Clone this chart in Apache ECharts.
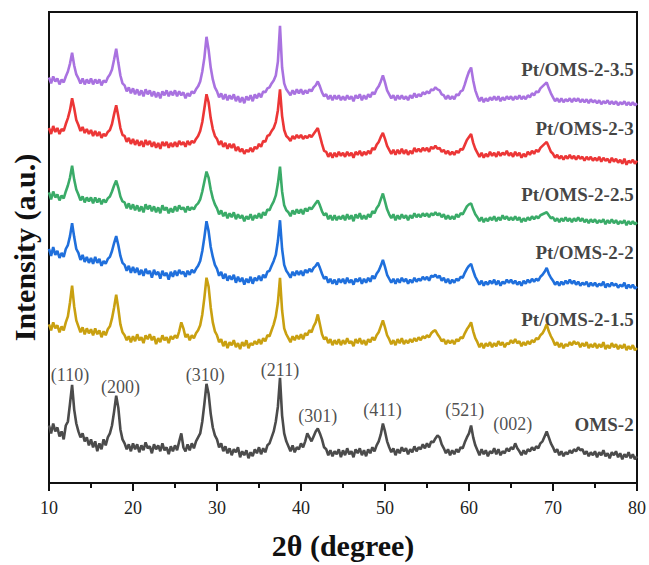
<!DOCTYPE html>
<html>
<head>
<meta charset="utf-8">
<script src="https://cdn.jsdelivr.net/npm/echarts@6/dist/echarts.min.js"></script>
<style>
html,body{margin:0;padding:0;background:#fff;}
#chart{width:649px;height:565px;}
</style>
</head>
<body>
<div id="chart"></div>
<script>
// 2θ sampling: start and step of the scans (degrees)
const angleStart = 10;
const angleStep = 0.25;

// Intensities (a.u.), each relative to its own baseline
const oms2 = [
36,28,38,30,34,25,30,22,36,40,58,77,52,38,30,24,28,20,24,16,
22,14,20,10,18,12,22,16,24,28,36,50,66,54,32,22,18,12,17,10,
18,12,17,9,16,11,19,13,15,8,17,12,16,10,18,11,14,7,15,10,
16,11,20,28,14,10,17,11,18,13,20,24,28,40,58,78,68,48,34,26,
22,14,18,10,15,8,13,6,12,9,14,4,10,6,11,3,9,5,12,8,
14,7,13,9,16,18,24,30,40,55,84,46,28,20,15,10,16,9,14,12,
18,14,20,28,24,20,25,30,33,28,22,14,12,6,11,5,10,7,12,4,
11,6,13,7,10,4,12,8,13,6,11,5,12,8,14,10,16,20,27,38,
30,20,14,9,13,6,12,8,14,10,13,7,12,9,15,10,14,12,17,13,
18,14,20,19,23,26,24,17,13,8,12,6,11,7,12,9,14,13,19,24,
28,36,24,16,11,6,12,7,11,5,10,8,13,7,12,6,10,8,13,10,
14,12,18,13,10,6,11,7,12,10,14,11,15,13,18,20,25,30,24,18,
14,9,12,6,10,5,9,7,11,8,12,10,14,11,12,7,10,5,9,6,
10,4,9,6,11,5,8,3,9,6,10,4,8,2,7,4,9,3,7,2,
5];
const pt15 = [
28,22,30,24,27,20,26,22,30,36,50,67,46,32,26,20,25,18,24,19,
23,17,24,18,22,15,21,17,23,26,34,45,58,44,28,20,17,12,16,10,
16,11,18,12,15,9,17,13,18,12,16,8,14,10,17,12,15,9,16,13,
17,14,21,30,24,15,18,12,17,14,19,22,27,38,55,75,66,45,30,21,
17,10,13,6,11,4,10,7,12,5,9,3,10,6,12,4,9,7,11,8,
13,8,14,11,17,16,22,28,36,50,75,42,24,18,14,10,16,12,17,13,
18,13,19,17,22,20,26,30,38,28,18,13,15,9,13,7,12,8,13,7,
12,8,14,9,11,6,13,9,14,8,12,7,13,10,15,12,17,20,26,32,
25,17,13,8,12,7,13,9,14,8,12,9,13,10,14,11,15,12,16,14,
17,15,19,21,22,18,15,11,13,8,12,9,12,8,13,11,15,14,19,23,
26,30,21,14,10,5,9,4,9,6,10,5,9,6,11,7,10,5,9,8,
12,9,13,9,11,6,10,7,11,8,12,10,14,13,17,19,23,28,21,16,
12,7,10,5,9,4,8,6,10,7,11,8,10,5,9,6,10,4,8,5,
9,4,8,5,10,3,7,4,9,5,8,3,7,4,8,2,6,3,7,2,
4];
const pt2 = [
42,35,44,36,40,33,38,34,42,46,55,68,54,42,38,31,36,29,34,28,
33,27,34,28,32,25,30,27,32,34,40,48,55,46,35,28,26,20,25,18,
24,18,23,16,21,15,22,17,20,13,21,16,19,12,20,15,18,11,19,14,
20,15,21,17,19,14,20,16,21,18,22,25,30,40,54,70,60,44,34,26,
22,15,19,12,17,10,15,11,16,8,14,9,13,6,12,8,14,7,13,10,
15,10,16,13,19,20,25,30,36,50,71,42,26,20,17,13,19,15,20,16,
20,15,21,18,22,19,23,25,28,23,17,12,14,8,12,7,11,6,12,8,
12,7,13,8,11,6,12,9,13,7,12,8,13,9,15,12,17,20,25,31,
24,16,12,8,12,7,12,8,13,9,12,7,11,8,13,9,12,10,14,11,
14,10,15,14,16,13,15,10,13,8,12,7,11,8,12,10,14,13,18,22,
25,27,20,14,10,6,10,5,9,6,10,7,11,6,10,5,9,7,11,8,
11,7,10,6,9,5,10,7,11,8,12,9,12,10,14,16,19,23,17,13,
10,6,9,5,9,6,10,7,11,7,10,6,9,5,8,6,9,4,8,5,
8,4,7,5,9,3,7,4,8,5,7,3,6,4,8,2,6,3,6,2,
4];
const pt25 = [
35,28,36,30,33,27,32,29,36,42,50,62,48,38,33,27,31,25,30,26,
30,24,30,25,29,23,28,25,29,31,36,42,47,40,31,26,25,19,24,18,
23,17,22,16,21,15,23,18,22,16,21,15,20,14,22,17,20,14,19,15,
21,16,22,18,20,15,21,17,20,18,22,24,28,36,46,56,50,38,29,23,
19,13,17,11,15,9,14,10,15,8,13,9,12,6,11,8,13,7,12,9,
14,9,15,12,18,17,22,26,32,44,61,36,22,17,15,11,17,13,18,14,
18,13,19,16,20,18,21,24,27,22,16,12,14,8,12,7,12,7,11,8,
12,7,13,8,12,6,13,9,14,8,12,8,13,10,16,14,19,22,28,34,
26,18,13,9,13,7,12,8,13,9,12,7,12,9,14,10,13,10,14,11,
14,10,14,12,15,12,14,10,13,8,12,8,11,8,13,10,14,13,17,21,
23,24,18,13,10,6,10,5,9,6,10,7,11,6,10,7,12,8,11,7,
10,7,11,7,10,5,9,6,10,7,11,8,11,9,12,13,14,15,12,9,
10,6,9,5,9,6,10,6,9,5,9,6,10,6,9,5,8,4,8,5,
8,4,7,5,8,3,7,4,8,4,7,3,6,4,7,2,6,3,6,3,
5];
const pt3 = [
38,32,40,34,38,32,37,35,42,48,56,68,58,46,41,35,39,33,37,32,
36,30,35,30,34,28,32,30,34,36,42,52,61,50,38,31,30,24,28,22,
27,21,26,20,25,19,26,21,25,19,24,18,23,17,24,20,24,18,23,19,
24,19,25,21,24,19,25,21,25,23,27,30,35,44,58,72,64,48,37,30,
27,21,25,19,23,17,22,18,22,15,19,14,17,12,16,14,18,14,19,17,
22,19,25,24,30,31,35,38,44,56,77,50,36,30,28,25,30,27,31,28,
31,27,30,28,31,29,32,35,38,30,22,15,14,9,13,8,13,9,14,10,
13,9,14,10,13,8,14,11,15,10,14,11,15,12,18,16,21,24,29,33,
27,20,16,12,16,11,16,12,17,12,16,11,15,12,18,14,17,14,18,15,
18,14,19,17,20,17,18,14,16,12,15,11,14,11,15,13,17,16,21,26,
29,32,23,17,13,9,13,8,12,9,14,10,13,9,14,10,13,11,15,10,
13,9,14,10,13,8,12,9,14,11,15,12,16,14,18,20,22,24,19,14,
12,8,11,7,10,6,10,7,11,7,10,6,10,7,9,5,9,6,9,5,
8,5,9,4,8,5,7,3,8,4,7,3,6,2,7,1,5,3,6,2,
5];
const pt35 = [
30,24,31,26,29,23,28,25,31,36,44,55,42,33,29,24,29,23,28,24,
29,23,28,24,28,22,27,25,30,33,38,48,59,45,32,24,22,16,20,14,
19,13,18,12,17,11,18,13,17,11,16,10,15,9,16,12,17,11,16,12,
17,11,16,12,15,9,14,11,16,14,18,21,26,36,50,71,58,40,28,20,
16,10,14,8,13,7,12,8,13,6,11,5,10,4,11,7,12,6,13,9,
14,10,16,15,19,20,24,27,32,46,82,40,24,18,15,12,17,13,18,14,
18,13,17,14,18,16,20,22,26,21,15,11,13,8,12,7,12,8,12,7,
11,7,12,8,11,6,12,9,13,7,12,8,13,10,15,13,18,21,26,32,
25,17,13,9,12,7,12,8,12,8,11,7,12,9,14,10,13,11,15,13,
16,14,18,17,20,18,17,13,12,8,12,8,11,8,13,12,16,17,23,30,
36,40,27,17,11,6,10,5,9,6,10,7,11,7,11,6,10,7,11,8,
11,7,11,8,12,8,11,8,12,10,14,12,16,15,19,21,23,25,19,14,
10,6,9,5,9,5,8,6,9,5,9,6,9,5,8,5,8,4,8,5,
7,4,7,3,6,4,7,3,6,3,6,2,5,3,6,2,5,2,5,2,
4];

// Vertical offsets used to stack the patterns (a.u.)
const offsets = [22, 132, 194, 258, 320, 379];
const seriesNames = ['OMS-2', 'Pt/OMS-2-1.5', 'Pt/OMS-2-2', 'Pt/OMS-2-2.5', 'Pt/OMS-2-3', 'Pt/OMS-2-3.5'];
const seriesColors = ['#4b4b4b', '#c9a010', '#1f6fdc', '#3aab68', '#ec3636', '#a972e0'];
const patterns = [oms2, pt15, pt2, pt25, pt3, pt35];

// Miller indices of OMS-2 reflections
const hklLabels = ['(110)', '(200)', '(310)', '(211)', '(301)', '(411)', '(521)', '(002)'];
const xTicks = [10, 20, 30, 40, 50, 60, 70, 80];

const FONT = '"Liberation Serif","Times New Roman",Times,serif';

// annotation anchors (data coordinates)
const hklAnchors = [[12.5,109],[18.5,97],[28.6,109],[37.5,114],[42.0,68],[49.7,74],[59.5,74],[65.2,59]];
const nameAnchors = [[79.6,59],[79.6,165],[79.6,232],[79.6,291],[79.6,358],[79.6,417]];

const series = patterns.map((p, k) => ({
  name: seriesNames[k],
  type: 'line',
  data: p.map((v, i) => [angleStart + i * angleStep, v + offsets[k]]),
  showSymbol: false,
  symbol: 'none',
  lineStyle: { color: seriesColors[k], width: 2.6 },
  itemStyle: { color: seriesColors[k] },
  z: 2 + (5 - k),
  animation: false
}));

series.push({
  type: 'scatter',
  symbolSize: 0,
  silent: true,
  data: hklLabels.map((t, i) => ({ value: hklAnchors[i], name: t })),
  label: {
    show: true, position: 'inside', formatter: p => p.name,
    fontFamily: FONT, fontSize: 18, color: '#222'
  },
  z: 10,
  animation: false
});
series.push({
  type: 'scatter',
  symbolSize: 0,
  silent: true,
  data: seriesNames.map((t, i) => ({ value: nameAnchors[i], name: t })),
  label: {
    show: true, position: 'inside', align: 'right', formatter: p => p.name,
    fontFamily: FONT, fontSize: 19, fontWeight: 'bold', color: '#111'
  },
  z: 10,
  animation: false
});

const chart = echarts.init(document.getElementById('chart'), null, { renderer: 'svg' });
chart.setOption({
  animation: false,
  backgroundColor: '#fff',
  grid: { left: 49, right: 10, top: 12, bottom: 78, show: true, borderColor: '#111', borderWidth: 2, backgroundColor: 'transparent' },
  xAxis: {
    type: 'value', min: 10, max: 80, interval: 10,
    name: '2θ (degree)', nameLocation: 'middle', nameGap: 47,
    nameTextStyle: { fontFamily: FONT, fontSize: 30, fontWeight: 'bold', color: '#111' },
    axisLine: { show: true, lineStyle: { color: '#111', width: 2 } },
    axisTick: { show: true, inside: false, length: 8, lineStyle: { color: '#111', width: 2 } },
    minorTick: { show: true, splitNumber: 2, length: 5, lineStyle: { color: '#111', width: 2 } },
    axisLabel: { fontFamily: FONT, fontSize: 18, color: '#222', margin: 16,
      formatter: v => (xTicks.indexOf(v) >= 0 ? String(v) : '') },
    splitLine: { show: false }
  },
  yAxis: {
    type: 'value', min: 0, max: 475,
    name: 'Intensity (a.u.)', nameLocation: 'middle', nameGap: 10,
    nameTextStyle: { fontFamily: FONT, fontSize: 30, fontWeight: 'bold', color: '#111' },
    axisLine: { show: true, lineStyle: { color: '#111', width: 2 } },
    axisTick: { show: false },
    axisLabel: { show: false },
    splitLine: { show: false }
  },
  series: series
});
</script>
</body>
</html>
